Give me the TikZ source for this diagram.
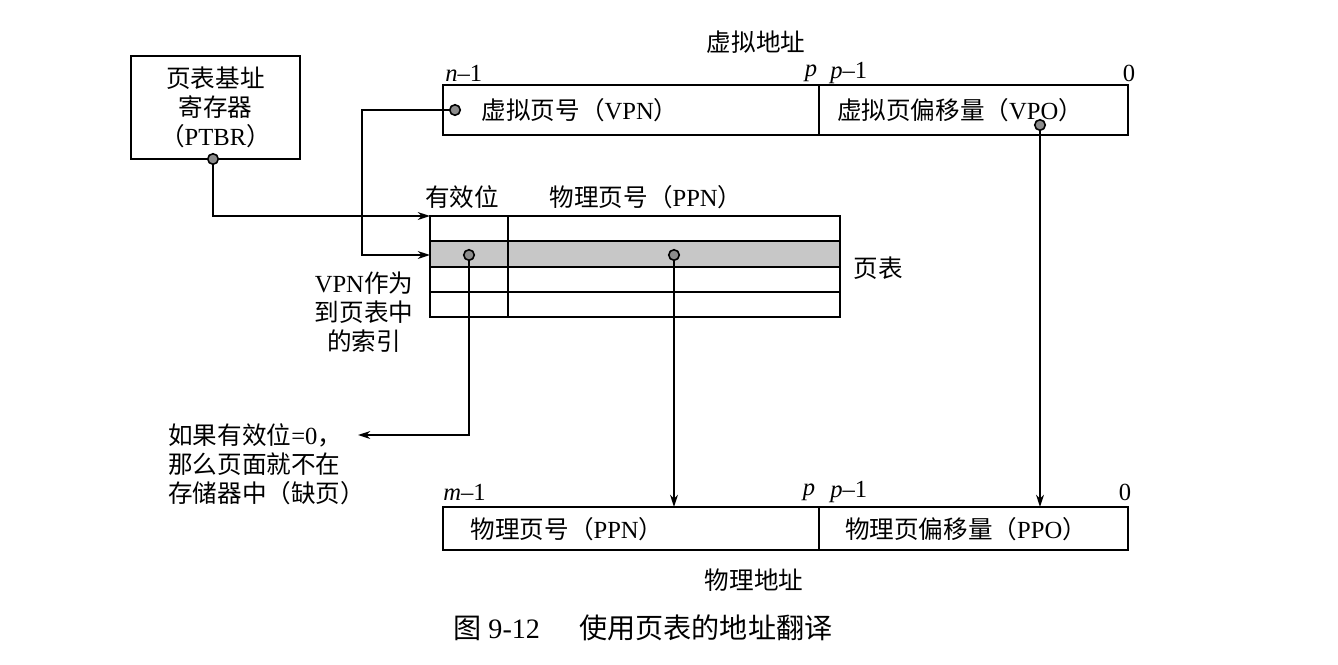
\documentclass[tikz,border=0pt]{standalone}
\usepackage{fontspec}
\setmainfont{Liberation Serif}
\newfontfamily\cjk{Noto Sans CJK SC}
\usetikzlibrary{arrows.meta}
\newcommand\zh[1]{{\cjk #1}}
\begin{document}
\begin{tikzpicture}[x=0.02cm,y=-0.02cm,
  lbl/.style={font=\fontsize{14}{16}\selectfont, inner sep=0pt},
  box/.style={draw, line width=1.4pt, inner sep=0pt},
  conn/.style={line width=0.9pt},
  arr/.style={conn, -{Stealth[length=7pt,width=4.5pt]}},
  pdot/.style={circle, draw, fill=black!45, line width=0.9pt, minimum size=6pt, inner sep=0pt},
  cell/.style={line width=1.3pt}
]
\useasboundingbox (0,0) rectangle (1338,664);

% PTBR register
\node[box, minimum width=3.38cm, minimum height=2.06cm] (ptbr) at (215.5,107.5) {};
\node[lbl, align=center, font=\fontsize{14}{15.5}\selectfont] (ptbrtxt) at (215.5,107) {\zh{页表基址}\\[1pt]\zh{寄存器}\\[1pt]\zh{（}PTBR\zh{）}};

% virtual address
\node[lbl] (vatitle) at (756,42) {\zh{虚拟地址}};
\node[box, minimum width=7.52cm, minimum height=1.0cm] (vpn) at (631,110) {};
\node[box, minimum width=6.18cm, minimum height=1.0cm] (vpo) at (973.5,110) {};
\node[lbl] (vpntxt) at (580,110) {\zh{虚拟页号（}VPN\zh{）}};
\node[lbl] (vpotxt) at (960,110) {\zh{虚拟页偏移量（}VPO\zh{）}};
\node[lbl, anchor=west] (vn1) at (445,73) {\textit{n}\textendash 1};
\node[lbl] (vp) at (811,73) {\textit{p}};
\node[lbl, anchor=west] (vp1) at (830,73) {\textit{p}\textendash 1};
\node[lbl] (v0) at (1129,73) {0};

% page table
\fill[black!22] (430,241) rectangle (840,267);
\draw[cell] (430,216) rectangle (840,317);
\draw[cell] (430,241) -- (840,241);
\draw[cell] (430,267) -- (840,267);
\draw[cell] (430,292) -- (840,292);
\draw[cell] (508,216) -- (508,317);
\coordinate (ptrow1) at (430,216);
\coordinate (ptrow2) at (430,255);
\node[lbl] (hvalid) at (462,197) {\zh{有效位}};
\node[lbl] (hppn) at (646,197) {\zh{物理页号（}PPN\zh{）}};
\node[lbl] (pttitle) at (878,268) {\zh{页表}};
\node[lbl, align=center, font=\fontsize{14}{15.5}\selectfont] (idx) at (364,312) {VPN\zh{作为}\\[1pt]\zh{到页表中}\\[1pt]\zh{的索引}};

% physical address
\node[box, minimum width=7.52cm, minimum height=0.86cm] (ppn) at (631,528.5) {};
\node[box, minimum width=6.18cm, minimum height=0.86cm] (ppo) at (973.5,528.5) {};
\node[lbl] (ppntxt) at (567,529) {\zh{物理页号（}PPN\zh{）}};
\node[lbl] (ppotxt) at (966,529) {\zh{物理页偏移量（}PPO\zh{）}};
\node[lbl, anchor=west] (pm1) at (443,492) {\textit{m}\textendash 1};
\node[lbl] (pp) at (809,492) {\textit{p}};
\node[lbl, anchor=west] (pp1) at (830,492) {\textit{p}\textendash 1};
\node[lbl] (p0) at (1125,492) {0};
\node[lbl] (patitle) at (754,580) {\zh{物理地址}};

% fault text
\node[lbl, anchor=north west, align=left, font=\fontsize{14}{15.5}\selectfont] (fault) at (168,423) {\zh{如果有效位}=0\zh{，}\\[1pt]\zh{那么页面就不在}\\[1pt]\zh{存储器中（缺页）}};
\coordinate (faultend) at (358,435);

% caption
\node[lbl, anchor=west, font=\fontsize{16}{18}\selectfont] (cap) at (453,628) {\zh{图} 9-12\hspace{1.4em}\zh{使用页表的地址翻译}};

% connectors
\coordinate (ppnin) at (674,507);
\coordinate (ppoin) at (1040,507);
\node[pdot] (ptbrdot) at (213,159) {};
\node[pdot] (vpndot) at (455,110) {};
\node[pdot] (vpodot) at (1040,125) {};
\node[pdot] (validdot) at (469,255) {};
\node[pdot] (ppndot) at (674,255) {};

\draw[arr] (ptbrdot) |- (ptrow1);
\draw[arr] (vpndot) -- (362,110) |- (ptrow2);
\draw[arr] (validdot) |- (faultend);
\draw[arr] (ppndot) -- (ppnin);
\draw[arr] (vpodot) -- (ppoin);
\end{tikzpicture}
\end{document}
